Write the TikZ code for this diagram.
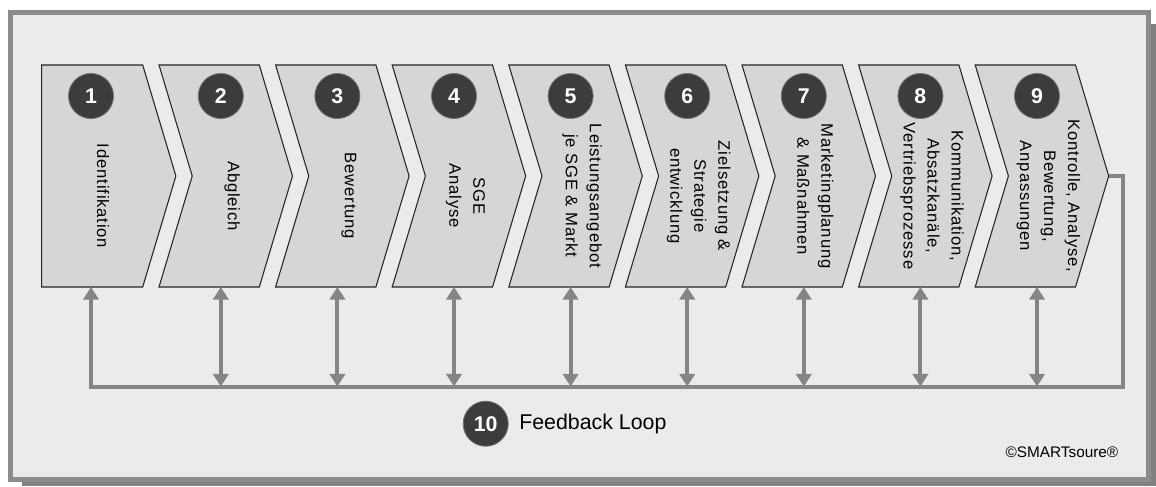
\documentclass[tikz,border=0pt]{standalone}
\usepackage{fontspec}
\setmainfont{Liberation Sans}
\newfontfamily\chevfont[LetterSpace=5]{Liberation Sans}
\usetikzlibrary{positioning,arrows.meta}
\definecolor{frameGray}{HTML}{8C8C8C}
\definecolor{shadowGray}{HTML}{808080}
\definecolor{paneBg}{HTML}{EBEBEB}
\definecolor{chevFill}{HTML}{D6D6D6}
\definecolor{numDark}{HTML}{3C3C3C}
\definecolor{loopGray}{HTML}{858585}

\begin{document}
\begin{tikzpicture}[
  x=0.75pt, y=-0.75pt,
  chevShape/.style={draw=black!85, line width=0.8pt, fill=chevFill, line join=miter},
  numDot/.style={circle, fill=numDark, draw=black!55, line width=0.6pt, minimum size=33.8pt, inner sep=0pt, text=white, font=\fontsize{16}{16}\selectfont\bfseries},
  stepText/.style={rotate=-90, align=center, inner sep=0pt, font=\chevfont\fontsize{12.5}{18}\selectfont},
  fbLine/.style={draw=loopGray, line width=3pt},
  fbtip/.tip={Triangle[width=11.5pt, length=9.5pt]},
]
\def\pitch{116.6}
\def\cw{100.3}
\def\tipd{33.2}
\def\ytop{65}
\def\ybot{287}
\def\ymid{176}
\def\yloop{386.5}
% frame and shadow
\useasboundingbox (0,0) rectangle (1156,486);
\fill[shadowGray] (22,24) rectangle (1156,486);
\draw[frameGray, fill=paneBg, line width=3.5pt] (10.3,12.2) rectangle (1148.6,479.3);
% process steps
\foreach \i/\txt in {%
  1/{Identifikation},
  2/{Abgleich},
  3/{Bewertung},
  4/{SGE\\Analyse},
  5/{Leistungsangebot\\je SGE \& Markt},
  6/{Zielsetzung \&\\Strategie\\entwicklung},
  7/{Marketingplanung\\\& Maßnahmen},
  8/{Kommunikation,\\Absatzkanäle,\\Vertriebsprozesse},
  9/{Kontrolle, Analyse,\\Bewertung,\\Anpassungen}%
} {
  \pgfmathsetmacro{\xr}{142.7+(\i-1)*\pitch}
  \pgfmathsetmacro{\xl}{\i==1 ? 41.7 : \xr-\cw}
  \pgfmathsetmacro{\notch}{\i==1 ? 0 : \tipd}
  \pgfmathsetmacro{\cx}{\i==1 ? \xr-51.7 : \xr-38.5}
  \pgfmathsetmacro{\tx}{\i==1 ? \xr-39.7 : \xr-27}
  \draw[chevShape] (\xl,\ytop) -- (\xr,\ytop) -- (\xr+\tipd,\ymid) -- (\xr,\ybot)
    -- (\xl,\ybot) -- (\xl+\notch,\ymid) -- cycle;
  \coordinate (tip\i) at (\xr+\tipd,\ymid);
  \coordinate (base\i) at (\cx,\ybot);
  \node[numDot] (num\i) at (\cx,96) {\i};
  \node[stepText] (step\i) at (\tx,196) {\txt};
}
% feedback loop
\coordinate (loopR) at (1123,\yloop);
\draw[fbLine, -fbtip] (tip9) -| (loopR) -| (base1);
\foreach \i in {2,...,9}
  \draw[fbLine, fbtip-fbtip] (base\i) -- (base\i |- loopR);
\node[numDot] (num10) at (485.7,423.7) {10};
\node[font=\fontsize{16}{16}\selectfont, right=4.5pt of num10] (fbLabel) {Feedback Loop};
\node[font=\fontsize{11.5}{13}\selectfont, anchor=east, inner sep=0pt] (copyNote) at (1118.5,452) {©SMARTsoure®};
\end{tikzpicture}
\end{document}
